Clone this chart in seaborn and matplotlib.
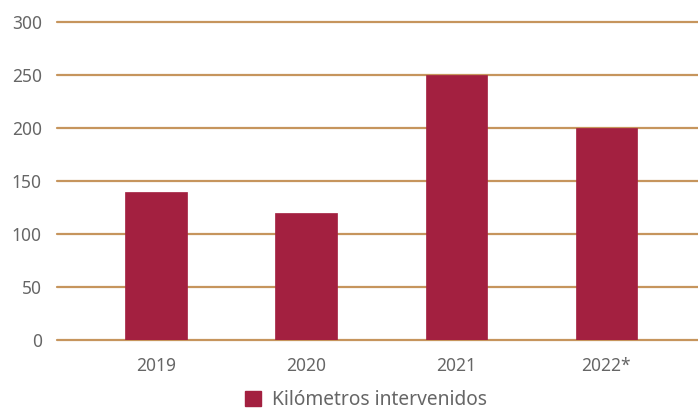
import matplotlib
matplotlib.use("Agg")
import matplotlib.pyplot as plt
import seaborn as sns
import pandas as pd
from matplotlib.patches import Patch

categories = ["2019", "2020", "2021", "2022*"]
values = [140, 120, 250, 200]
yticks = [0, 50, 100, 150, 200, 250, 300]
series_name = "Kilómetros intervenidos"

bar_color = "#A32040"
grid_color = "#C6955D"
text_color = "#666666"

sns.set_theme(style="white")
plt.rcParams["font.family"] = ["Noto Sans", "DejaVu Sans"]

df = pd.DataFrame({"year": categories, "km": values})

fig = plt.figure(figsize=(6.98, 4.11), dpi=100)
ax = fig.add_axes([57 / 698, 1 - 340 / 411, 1 - 57 / 698, (340 - 22) / 411])

sns.barplot(data=df, x="year", y="km", color=bar_color, width=0.41,
            saturation=1, ax=ax, zorder=3, edgecolor=bar_color, linewidth=0.5)

ax.set_ylim(0, 300)
ax.set_xlim(-0.66, 3.61)
ax.set_yticks(yticks)
for y in yticks:
    ax.axhline(y, color=grid_color, linewidth=1.6, zorder=1, clip_on=False)

for s in ax.spines.values():
    s.set_visible(False)
ax.tick_params(axis="both", length=0, labelsize=12.5, colors=text_color)
ax.tick_params(axis="y", pad=11)
ax.tick_params(axis="x", pad=12)
ax.set_xlabel("")
ax.set_ylabel("")

handles = [Patch(facecolor=bar_color, edgecolor=bar_color, label=series_name)]
fig.legend(handles=handles, loc="center", bbox_to_anchor=(366 / 698, 1 - 400 / 411),
           frameon=False, fontsize=13.8, labelcolor=text_color,
           handlelength=0.85, handleheight=0.85, handletextpad=0.55,
           borderpad=0.1)

fig.savefig("out.png", dpi=100)
